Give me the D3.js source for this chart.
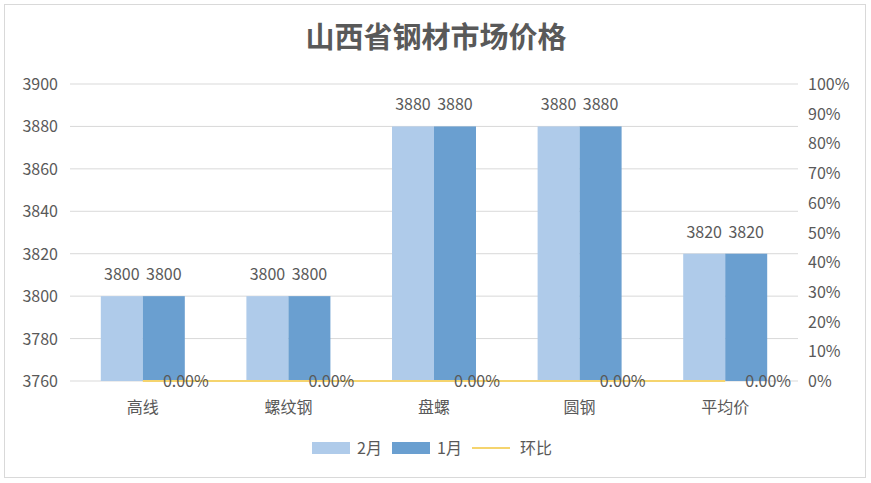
<!DOCTYPE html>
<html><head><meta charset="utf-8">
<script src="https://cdn.jsdelivr.net/npm/d3@7"></script>
<style>body{margin:0;background:#fff}text{font-family:"Noto Sans CJK SC","Open Sans",sans-serif;fill:#595959}</style>
</head><body><svg id="c" width="871" height="483"></svg>
<script>
var categories = ['高线', '螺纹钢', '盘螺', '圆钢', '平均价'];
var feb = [3800, 3800, 3880, 3880, 3820];
var jan = [3800, 3800, 3880, 3880, 3820];
var ratio = [0, 0, 0, 0, 0];
var leftTicks = [3760, 3780, 3800, 3820, 3840, 3860, 3880, 3900];
var rightTicks = [0, 0.1, 0.2, 0.3, 0.4, 0.5, 0.6, 0.7, 0.8, 0.9, 1];

var svg = d3.select('#c');
svg.append('rect').attr('x', 4.5).attr('y', 4.5).attr('width', 861).attr('height', 473)
  .attr('fill', '#fff').attr('stroke', '#d9d9d9');
svg.append('text').attr('x', 436).attr('y', 48).attr('text-anchor', 'middle')
  .attr('font-size', 29).attr('font-weight', 'bold').text('山西省钢材市场价格');

var x = d3.scaleBand().domain(categories).range([70, 798]);
var y = d3.scaleLinear().domain([3760, 3900]).range([381, 84]);
var y2 = d3.scaleLinear().domain([0, 1]).range([381, 84]);
var bw = 42;

svg.selectAll('.grid').data(leftTicks).enter().append('line')
  .attr('x1', 70).attr('x2', 798).attr('y1', d => y(d)).attr('y2', d => y(d))
  .attr('stroke', '#d9d9d9');

svg.selectAll('.lt').data(leftTicks).enter().append('text')
  .attr('x', 58).attr('y', d => y(d) + 6).attr('text-anchor', 'end').attr('font-size', 16).text(d => d);
svg.selectAll('.rt').data(rightTicks).enter().append('text')
  .attr('x', 808).attr('y', d => y2(d) + 6).attr('font-size', 16).text(d => Math.round(d * 100) + '%');

function c(d) { return x(d) + x.bandwidth() / 2; }

svg.selectAll('.b1').data(feb).enter().append('rect')
  .attr('x', (d, i) => c(categories[i]) - bw).attr('y', d => y(d)).attr('width', bw)
  .attr('height', d => 381 - y(d)).attr('fill', '#afcbea');
svg.selectAll('.b2').data(jan).enter().append('rect')
  .attr('x', (d, i) => c(categories[i])).attr('y', d => y(d)).attr('width', bw)
  .attr('height', d => 381 - y(d)).attr('fill', '#6a9fd0');

svg.selectAll('.l1').data(feb).enter().append('text')
  .attr('x', (d, i) => c(categories[i]) - bw / 2).attr('y', d => y(d) - 16)
  .attr('text-anchor', 'middle').attr('font-size', 16).text(d => d);
svg.selectAll('.l2').data(jan).enter().append('text')
  .attr('x', (d, i) => c(categories[i]) + bw / 2).attr('y', d => y(d) - 16)
  .attr('text-anchor', 'middle').attr('font-size', 16).text(d => d);

svg.append('path').datum(ratio)
  .attr('d', d3.line().x((d, i) => c(categories[i])).y(d => y2(d)))
  .attr('fill', 'none').attr('stroke', '#f5d46e').attr('stroke-width', 2);
svg.selectAll('.l3').data(ratio).enter().append('text')
  .attr('x', (d, i) => c(categories[i]) + 43).attr('y', d => y2(d) + 6)
  .attr('text-anchor', 'middle').attr('font-size', 16).text(d => d.toFixed(2) + '%');

svg.selectAll('.xt').data(categories).enter().append('text')
  .attr('x', d => c(d)).attr('y', 413).attr('text-anchor', 'middle').attr('font-size', 16).text(d => d);

var lg = svg.append('g');
lg.append('rect').attr('x', 312).attr('y', 442).attr('width', 38).attr('height', 12).attr('fill', '#afcbea');
lg.append('text').attr('x', 357).attr('y', 454).attr('font-size', 16).text('2月');
lg.append('rect').attr('x', 392).attr('y', 442).attr('width', 38).attr('height', 12).attr('fill', '#6a9fd0');
lg.append('text').attr('x', 437).attr('y', 454).attr('font-size', 16).text('1月');
lg.append('line').attr('x1', 472).attr('x2', 510).attr('y1', 448).attr('y2', 448).attr('stroke', '#f5d46e').attr('stroke-width', 2);
lg.append('text').attr('x', 520).attr('y', 454).attr('font-size', 16).text('环比');
</script></body></html>
